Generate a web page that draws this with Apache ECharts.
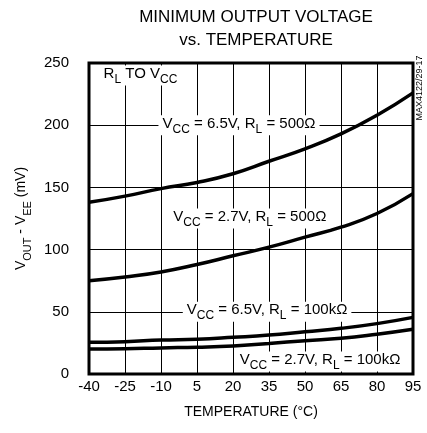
<!DOCTYPE html>
<html><head><meta charset="utf-8">
<script src="https://cdn.jsdelivr.net/npm/echarts@6/dist/echarts.min.js"></script>
<style>html,body{margin:0;padding:0;background:#fff}#c{width:427px;height:433px}</style>
</head><body><div id="c"></div>
<script>
var temps = [-40, -25, -10, 5, 20, 35, 50, 65, 80, 95];
var vcc65_500 = [138, 143, 149, 154, 161, 171, 181, 193, 208, 226];
var vcc27_500 = [75, 78, 82, 88, 95, 102, 110, 118, 129, 145];
var vcc65_100k = [25.5, 26, 27.3, 28, 29.5, 31.3, 34, 36.7, 40.5, 45.5];
var vcc27_100k = [20, 20.3, 21, 21.5, 22.5, 24.6, 26.8, 28.7, 32, 36];
var curveNames = ['VCC = 6.5V, RL = 500Ω', 'VCC = 2.7V, RL = 500Ω', 'VCC = 6.5V, RL = 100kΩ', 'VCC = 2.7V, RL = 100kΩ'];
var xTicks = [-40, -25, -10, 5, 20, 35, 50, 65, 80, 95];
var yTicks = [0, 50, 100, 150, 200, 250];

var FONT = '"Liberation Sans", Arial, sans-serif';
function pairs(ys){ return temps.map(function(t,i){ return [t, ys[i]]; }); }
var rich = {
  v: {fontSize: 15, fontFamily: FONT, color: '#000', lineHeight: 20, verticalAlign: 'top', padding: [1,0,0,0]},
  s: {fontSize: 12, fontFamily: FONT, color: '#000', lineHeight: 20, verticalAlign: 'bottom', padding: [0,0,0,0]}
};
function lab(x, y, fmt, align){
  return {coord: [x, y], symbol: 'circle', symbolSize: 0,
    label: {show: true, position: 'inside', formatter: fmt, align: align || 'center', verticalAlign: 'middle',
      backgroundColor: '#fff', padding: [0, 4], rich: rich}};
}
function line(name, ys, extra){
  var s = {name: name, type: 'line', data: pairs(ys), smooth: true, showSymbol: false, symbol: 'none',
    lineStyle: {color: '#000', width: 3.5}, z: 3, silent: true, animation: false};
  if (extra) s.markPoint = extra;
  return s;
}
var chart = echarts.init(document.getElementById('c'), null, {renderer: 'canvas'});
chart.setOption({
  animation: false,
  backgroundColor: '#fff',
  title: {text: 'MINIMUM OUTPUT VOLTAGE\nvs. TEMPERATURE', left: 251, top: 1, textAlign: 'center',
    textStyle: {fontFamily: FONT, fontSize: 17, fontWeight: 'normal', color: '#000', lineHeight: 23}},
  grid: {left: 89, right: 14, top: 63, bottom: 59, show: true, borderColor: '#000', borderWidth: 3, backgroundColor: 'transparent'},
  xAxis: {type: 'value', min: -40, max: 95, interval: 15,
    name: 'TEMPERATURE (°C)', nameLocation: 'middle', nameGap: 31,
    nameTextStyle: {fontFamily: FONT, fontSize: 14, color: '#000'},
    axisLine: {show: false}, axisTick: {show: false},
    axisLabel: {fontFamily: FONT, fontSize: 15, color: '#000', margin: 5,
      formatter: function(v){ return xTicks.indexOf(v) >= 0 ? String(v) : ''; }},
    splitLine: {show: true, lineStyle: {color: '#000', width: 1}}},
  yAxis: {type: 'value', min: 0, max: 250, interval: 50,
    name: '{v|V}{s|OUT}{v| - V}{s|EE}{v| (mV)}', nameLocation: 'middle', nameGap: 54, nameRotate: 90,
    nameTextStyle: {rich: {
      v: {fontSize: 14, fontFamily: FONT, color: '#000', lineHeight: 20, verticalAlign: 'top', padding: [1,0,0,0]},
      s: {fontSize: 11, fontFamily: FONT, color: '#000', lineHeight: 20, verticalAlign: 'bottom'}}},
    axisLine: {show: false}, axisTick: {show: false},
    axisLabel: {fontFamily: FONT, fontSize: 15, color: '#000', margin: 20,
      formatter: function(v){ return yTicks.indexOf(v) >= 0 ? String(v) : ''; }},
    splitLine: {show: true, lineStyle: {color: '#000', width: 1}}},
  graphic: [{type: 'text', x: 420, y: 88, rotation: Math.PI/2, z: 10,
    style: {text: 'MAX4122/29-17', font: '9px ' + FONT, fill: '#000', align: 'center', verticalAlign: 'middle'}}],
  series: [
    line(curveNames[0], vcc65_500, {silent: true, animation: false, data: [
      lab(-35.6, 240, '{v|R}{s|L}{v| TO V}{s|CC}', 'left'),
      lab(22.5, 200, '{v|V}{s|CC}{v| = 6.5V, R}{s|L}{v| = 500Ω}')]}),
    line(curveNames[1], vcc27_500, {silent: true, animation: false, data: [
      lab(27, 125, '{v|V}{s|CC}{v| = 2.7V, R}{s|L}{v| = 500Ω}')]}),
    line(curveNames[2], vcc65_100k, {silent: true, animation: false, data: [
      lab(34.2, 50, '{v|V}{s|CC}{v| = 6.5V, R}{s|L}{v| = 100kΩ}')]}),
    line(curveNames[3], vcc27_100k, {silent: true, animation: false, data: [
      lab(56.3, 10, '{v|V}{s|CC}{v| = 2.7V, R}{s|L}{v| = 100kΩ}')]})
  ]
});
</script></body></html>
